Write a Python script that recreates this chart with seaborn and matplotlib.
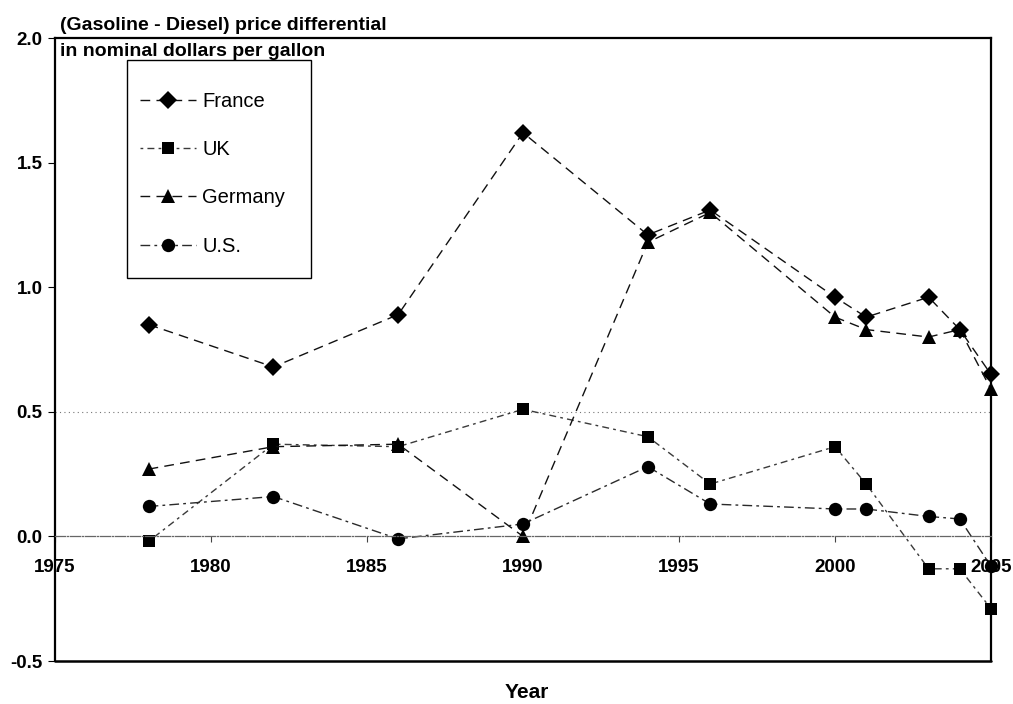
import matplotlib
matplotlib.use("Agg")
import matplotlib.pyplot as plt
from matplotlib.patches import Rectangle
import seaborn as sns
import pandas as pd

# Gasoline minus diesel price, nominal dollars per gallon
years = [1978, 1982, 1986, 1990, 1994, 1996, 2000, 2001, 2003, 2004, 2005]
france = [0.85, 0.68, 0.89, 1.62, 1.21, 1.31, 0.96, 0.88, 0.96, 0.83, 0.65]
uk = [-0.02, 0.37, 0.36, 0.51, 0.40, 0.21, 0.36, 0.21, -0.13, -0.13, -0.29]
germany = [0.27, 0.36, 0.37, 0.00, 1.18, 1.30, 0.88, 0.83, 0.80, 0.83, 0.59]
us = [0.12, 0.16, -0.01, 0.05, 0.28, 0.13, 0.11, 0.11, 0.08, 0.07, -0.12]

countries = ["France", "UK", "Germany", "U.S."]
series = [france, uk, germany, us]
x_ticks = [1975, 1980, 1985, 1990, 1995, 2000, 2005]
y_ticks = [-0.5, 0.0, 0.5, 1.0, 1.5, 2.0]

df = pd.DataFrame(
    [(y, c, v) for c, vals in zip(countries, series) for y, v in zip(years, vals)],
    columns=["Year", "Country", "Diff"],
)

sns.set_theme(style="white")
plt.rcParams["font.family"] = ["Liberation Sans", "DejaVu Sans"]
plt.rcParams["text.color"] = "black"
plt.rcParams["xtick.color"] = "black"
plt.rcParams["ytick.color"] = "black"

fig = plt.figure(figsize=(10.13, 7.04), dpi=100)
ax = fig.add_axes([55 / 1013, 43 / 704, (991 - 55) / 1013, (661 - 38) / 704])

styles = {
    "France": dict(marker="D", ms=9.2, dashes=(7, 4.5), color="#111111"),
    "UK": dict(marker="s", ms=9.2, dashes=(2, 3, 5, 3), color="#3a3a3a"),
    "Germany": dict(marker="^", ms=10.5, dashes=(7, 4.5), color="#111111"),
    "U.S.": dict(marker="o", ms=9.6, dashes=(7, 3, 2, 3), color="#2a2a2a"),
}

for name in countries:
    st = styles[name]
    sns.lineplot(
        data=df[df["Country"] == name], x="Year", y="Diff",
        color=st["color"], marker=st["marker"], markersize=st["ms"],
        markeredgewidth=0, linewidth=1.0, dashes=st["dashes"],
        label=name, ax=ax, clip_on=False,
    )
for line in ax.lines:
    line.set_markerfacecolor("black")

ax.set_xlim(1975, 2005)
ax.set_ylim(-0.5, 2.0)

# reference line at 0.5
ax.axhline(0.5, color="#777777", lw=0.8, ls=(0, (1, 3)), zorder=0)

# x axis crosses at zero; frame closed at the bottom
ax.spines["bottom"].set_position(("data", 0))
ax.spines["bottom"].set_color("#666666")
ax.spines["bottom"].set_linewidth(0.9)
ax.spines["bottom"].set_linestyle((0, (8, 1.5, 1, 1.5)))
ax.axhline(-0.5, color="black", lw=1.8, clip_on=False, zorder=5)
for side in ["left", "right", "top"]:
    ax.spines[side].set_color("black")
    ax.spines[side].set_linewidth(1.6)
    ax.spines[side].set_visible(True)

ax.set_xticks(x_ticks)
ax.set_xticklabels([str(t) for t in x_ticks], fontsize=13.5, fontweight="bold")
ax.set_yticks(y_ticks)
ax.set_yticklabels([f"{t:.1f}" for t in y_ticks], fontsize=13.5, fontweight="bold")
ax.tick_params(axis="x", direction="out", length=4, width=0.8, color="#444444", pad=12, bottom=True)
ax.tick_params(axis="y", direction="out", length=5, width=0.8, color="black", pad=4, left=True)
ax.grid(False)

ax.set_xlabel("")
ax.set_ylabel("")
fig.text(527 / 1013, 1 - 693 / 704, "Year", ha="center", va="center",
         fontsize=15, fontweight="bold")
fig.text(60 / 1013, 1 - 25 / 704, "(Gasoline - Diesel) price differential",
         ha="left", va="center", fontsize=14, fontweight="bold")
fig.text(60 / 1013, 1 - 51 / 704, "in nominal dollars per gallon",
         ha="left", va="center", fontsize=14, fontweight="bold")

# legend box
ax.add_patch(Rectangle(((127 - 55) / 936, (661 - 278) / 623), (311 - 127) / 936, (278 - 60) / 623,
                       transform=ax.transAxes, fill=True, facecolor="white",
                       edgecolor="black", lw=1.0, zorder=6))
handles, labels = ax.get_legend_handles_labels()
leg = ax.legend(
    handles, labels, loc="upper left", bbox_to_anchor=((140 - 55) / 936, (661 - 92) / 623),
    frameon=False, fontsize=14.5,
    labelspacing=1.45, borderpad=0.0, handlelength=2.8, handletextpad=0.3,
    borderaxespad=0,
)
leg.set_zorder(7)

fig.savefig("out.png", dpi=100, facecolor="white")
